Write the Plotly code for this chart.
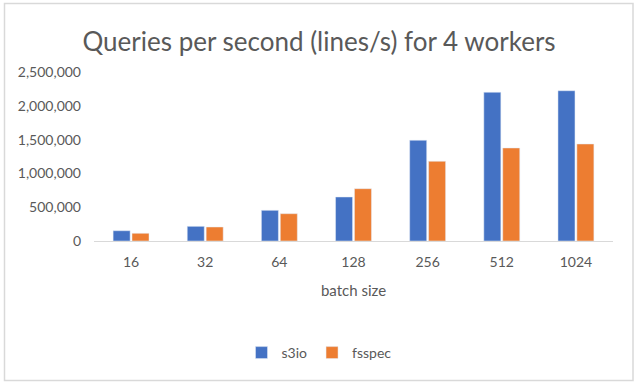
import plotly.graph_objects as go

batch_sizes = ["16", "32", "64", "128", "256", "512", "1024"]
s3io = [152000, 217000, 454000, 651000, 1490000, 2200000, 2223000]
fsspec = [114000, 207000, 404000, 774000, 1179000, 1376000, 1435000]
y_ticks = [0, 500000, 1000000, 1500000, 2000000, 2500000]

W, H = 638, 386
L, R, T, B = 94, 25, 72, 145
FONT = "Lato"
TXT = "#595959"

fig = go.Figure()
fig.add_bar(x=batch_sizes, y=s3io, name="s3io", marker_color="#4472C4")
fig.add_bar(x=batch_sizes, y=fsspec, name="fsspec", marker_color="#ED7D31")

pw, ph = W - L - R, H - T - B
def px_x(x):
    return (x - L) / pw
def px_y(y):
    return (H - B - y) / ph

fig.add_shape(type="rect", xref="paper", yref="paper",
              x0=px_x(4.5), x1=px_x(633), y0=px_y(380.5), y1=px_y(3.5),
              line=dict(color="#d9d9d9", width=1.5), fillcolor="rgba(0,0,0,0)", layer="below")

fig.update_layout(
    width=W, height=H,
    margin=dict(l=L, r=R, t=T, b=B),
    paper_bgcolor="white", plot_bgcolor="white",
    font=dict(family=FONT, color=TXT, size=14),
    barmode="group", bargap=0.49, bargroupgap=0.1,
    title=dict(text="Queries per second (lines/s) for 4 workers", x=0.5, xref="container",
               y=1 - 42 / H, yref="container", xanchor="center", yanchor="middle",
               font=dict(family=FONT, size=26, color=TXT)),
    xaxis=dict(title=dict(text="batch size", font=dict(size=15), standoff=16),
               showline=True, linecolor="#d9d9d9", linewidth=1, ticks="", showgrid=False,
               tickfont=dict(size=14), ticklabelstandoff=8),
    yaxis=dict(range=[0, 2500000], tickvals=y_ticks, tickformat=",d", showgrid=False,
               zeroline=False, tickfont=dict(size=14), ticklabelstandoff=12),
    legend=dict(orientation="h", xref="container", x=0.5, xanchor="center",
                yref="container", y=1 - 353 / H, yanchor="middle",
                font=dict(size=14), itemwidth=30),
    showlegend=True,
)

fig.write_html("out.html", config={"displayModeBar": False},
               post_script="document.body.style.margin='0';")
